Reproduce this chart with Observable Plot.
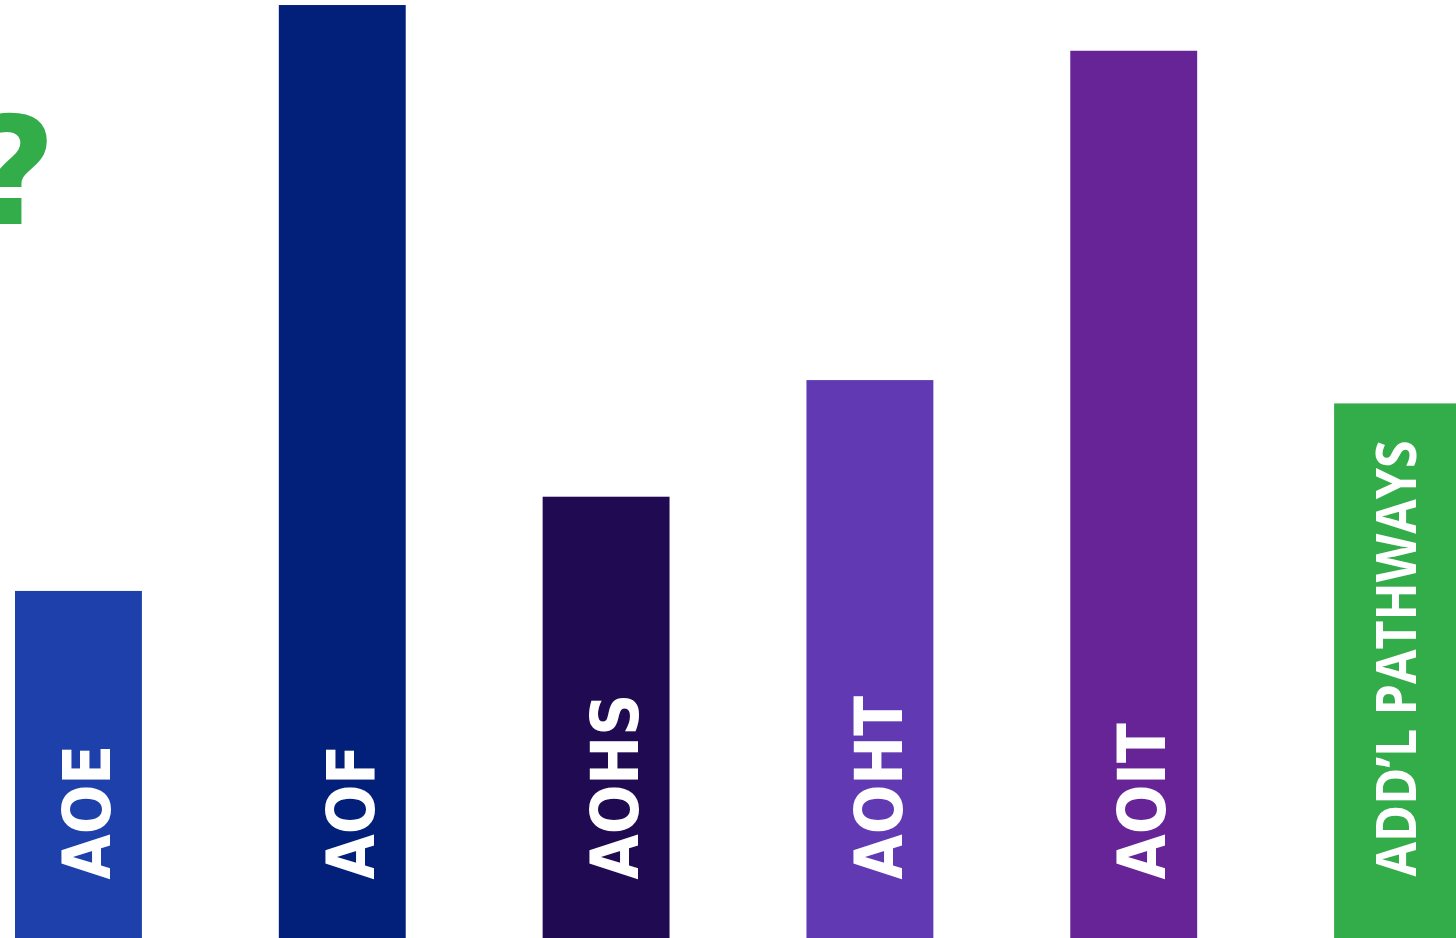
<!DOCTYPE html>
<html>
<head>
<meta charset="utf-8">
<script src="https://cdn.jsdelivr.net/npm/d3@7"></script>
<script src="https://cdn.jsdelivr.net/npm/@observablehq/plot@0.6"></script>
<style>
  html, body { margin: 0; padding: 0; background: #ffffff; overflow: hidden; }
  #chart svg { display: block; overflow: hidden; }
</style>
</head>
<body>
<div id="chart"></div>
<script>
// Data (relative bar heights; tallest = 100)
const categories = ["AOE", "AOF", "AOHS", "AOHT", "AOIT", "ADD\u2019L PATHWAYS"];
const values = [37.2, 100, 47.3, 59.8, 95.1, 57.3];
const colors = ["#1e40aa", "#02207a", "#200a52", "#6039b3", "#662496", "#33ad4a"];
const labelFonts = ["DejaVu Sans", "DejaVu Sans", "DejaVu Sans", "DejaVu Sans", "DejaVu Sans", "Open Sans"];

const data = categories.map((c, i) => ({category: c, value: values[i], color: colors[i], font: labelFonts[i]}));
const mainLabels = data.filter(d => d.font === "DejaVu Sans");
const lastLabels = data.filter(d => d.font === "Open Sans");

const chart = Plot.plot({
  width: 1456,
  height: 938,
  marginTop: 0,
  marginBottom: 0,
  marginLeft: 0,
  marginRight: 0,
  style: {background: "#ffffff", overflow: "hidden"},
  x: {domain: categories, range: [15, 1461], paddingInner: 0.519, paddingOuter: 0, round: false, axis: null},
  y: {domain: [0, 100.54], range: [938, 0], axis: null},
  color: {type: "identity"},
  marks: [
    Plot.barY(data, {x: "category", y: "value", fill: "color"}),
    Plot.text(mainLabels, {
      x: "category", y: () => 0, text: "category", rotate: -90,
      textAnchor: "start", lineAnchor: "middle",
      dx: 10, dy: -59,
      fill: "#ffffff", fontFamily: "DejaVu Sans", fontWeight: "bold", fontSize: 66,
      className: "barlabel"
    }),
    Plot.text(lastLabels, {
      x: "category", y: () => 0, text: "category", rotate: -90,
      textAnchor: "start", lineAnchor: "middle",
      dx: 0, dy: -62,
      fill: "#ffffff", fontFamily: "Open Sans", fontWeight: "bold", fontSize: 56,
      className: "barlabel2"
    }),
    Plot.text(["?"], {
      frameAnchor: "top-left", text: d => d,
      textAnchor: "end", lineAnchor: "bottom",
      dx: 56, dy: 223,
      fill: "#33ad4a", fontFamily: "DejaVu Sans", fontWeight: "bold", fontSize: 150
    })
  ]
});

document.getElementById("chart").appendChild(chart);

// compress the rotated labels along their reading direction, as in the picture
chart.querySelectorAll("g.barlabel text").forEach(t => {
  const tr = t.getAttribute("transform") || "";
  t.setAttribute("transform", tr + " scale(0.885,1)");
});
chart.querySelectorAll("g.barlabel2 text").forEach(t => {
  const tr = t.getAttribute("transform") || "";
  t.setAttribute("transform", tr + " scale(0.895,1)");
});
</script>
</body>
</html>
